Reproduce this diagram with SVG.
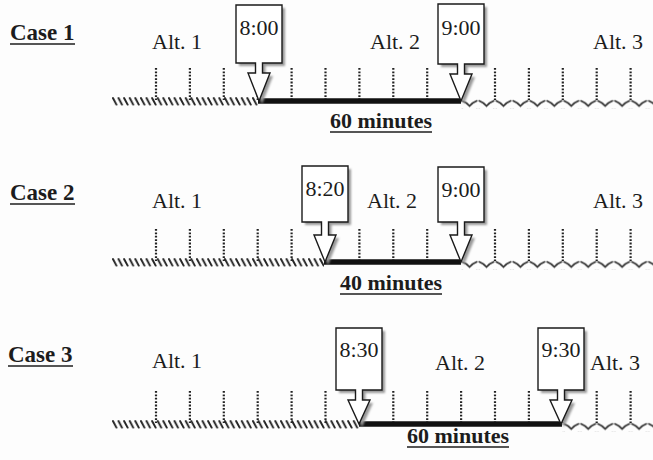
<svg xmlns="http://www.w3.org/2000/svg" width="653" height="460" viewBox="0 0 653 460">
<style>
.t{font-family:"Liberation Serif","Times New Roman",serif;font-size:22px;fill:#1c1c1c}
.b{font-weight:bold}
.m{text-anchor:middle}
.ul{stroke:#1c1c1c;stroke-width:1.6}
.tick{fill:none;stroke:#222;stroke-width:2.2;stroke-dasharray:1.8 1.6}
.thick{stroke:#111;stroke-width:5.5}
.call{fill:#fff;stroke:#1a1a1a;stroke-width:1.4;stroke-linejoin:miter}
.shadow{fill:#999;filter:url(#blur)}
</style>
<defs>
<filter id="blur" x="-20%" y="-20%" width="140%" height="140%"><feGaussianBlur stdDeviation="1.1"/></filter>
<pattern id="hatch" patternUnits="userSpaceOnUse" x="112" y="-4" width="5.6" height="9">
<path d="M0.9,1 L4.4,7.6" stroke="#222" stroke-width="1.9" stroke-linecap="round" fill="none"/>
</pattern>
<pattern id="wave" patternUnits="userSpaceOnUse" x="156" y="-1.5" width="16.95" height="9">
<path d="M0.6,0.9 Q5,2.5 8.47,6.6 Q11.9,2.5 16.35,0.9" stroke="#262626" stroke-width="1.6" fill="none"/>
</pattern>
<path id="ticks" d="M156,-33V-1M189.9,-33V-1M223.8,-33V-1M257.7,-33V-1M291.6,-33V-1M325.5,-33V-1M359.4,-33V-1M393.3,-33V-1M427.2,-33V-1M461.1,-33V-1M495,-33V-1M528.9,-33V-1M562.8,-33V-1M596.7,-33V-1M630.6,-33V-1"/>
</defs>
<rect width="653" height="460" fill="#fdfdfd"/>

<!-- CASE 1 -->
<g id="case1">
<g id="case1-timeline" transform="translate(0,101)">
<rect x="112" y="-4" width="146" height="9" fill="url(#hatch)"/>
<rect x="461" y="-1.5" width="192" height="9" fill="url(#wave)"/>
<use href="#ticks" class="tick"/>
<line x1="258" y1="0" x2="461" y2="0" class="thick"/>
</g>
<g id="case1-label"><text class="t b" x="10" y="40" style="font-size:23px">Case 1</text><line class="ul" x1="10" y1="44" x2="75" y2="44"/></g>
<text id="case1-alt1" class="t" x="152" y="49">Alt. 1</text>
<text id="case1-alt2" class="t" x="370" y="49">Alt. 2</text>
<text id="case1-alt3" class="t" x="593" y="49">Alt. 3</text>
<g id="case1-800">
<path class="shadow" transform="translate(3,3)" d="M236,5H282V63H262.5V73H270L259,101L248,73H255.5V63H236Z"/>
<path class="call" d="M236,5H282V63H262.5V73H270L259,101L248,73H255.5V63H236Z"/>
<text class="t m" x="259" y="35">8:00</text>
</g>
<g id="case1-900">
<path class="shadow" transform="translate(3,3)" d="M438,4H484V64H464.5V74H472L461,101L450,74H457.5V64H438Z"/>
<path class="call" d="M438,4H484V64H464.5V74H472L461,101L450,74H457.5V64H438Z"/>
<text class="t m" x="461" y="35">9:00</text>
</g>
<g id="case1-minutes"><text class="t b m" x="381" y="128">60 minutes</text><line class="ul" x1="330" y1="132" x2="432" y2="132"/></g>
</g>

<!-- CASE 2 -->
<g id="case2">
<g id="case2-timeline" transform="translate(0,262)">
<rect x="112" y="-4" width="212" height="9" fill="url(#hatch)"/>
<rect x="461" y="-1.5" width="192" height="9" fill="url(#wave)"/>
<use href="#ticks" class="tick"/>
<line x1="324" y1="0" x2="461" y2="0" class="thick"/>
</g>
<g id="case2-label"><text class="t b" x="10" y="200" style="font-size:23px">Case 2</text><line class="ul" x1="10" y1="204" x2="75" y2="204"/></g>
<text id="case2-alt1" class="t" x="152" y="208">Alt. 1</text>
<text id="case2-alt2" class="t" x="367" y="208">Alt. 2</text>
<text id="case2-alt3" class="t" x="593" y="208">Alt. 3</text>
<g id="case2-820">
<path class="shadow" transform="translate(3,3)" d="M302,166H348V222H328.5V235H336L325,262L314,235H321.5V222H302Z"/>
<path class="call" d="M302,166H348V222H328.5V235H336L325,262L314,235H321.5V222H302Z"/>
<text class="t m" x="325" y="196">8:20</text>
</g>
<g id="case2-900">
<path class="shadow" transform="translate(3,3)" d="M438,167H484V222H464.5V235H472L461,262L450,235H457.5V222H438Z"/>
<path class="call" d="M438,167H484V222H464.5V235H472L461,262L450,235H457.5V222H438Z"/>
<text class="t m" x="461" y="197">9:00</text>
</g>
<g id="case2-minutes"><text class="t b m" x="391" y="290">40 minutes</text><line class="ul" x1="340" y1="294" x2="442" y2="294"/></g>
</g>

<!-- CASE 3 -->
<g id="case3">
<g id="case3-timeline" transform="translate(0,424)">
<rect x="112" y="-4" width="247" height="9" fill="url(#hatch)"/>
<rect x="562" y="-1.5" width="91" height="9" fill="url(#wave)"/>
<use href="#ticks" class="tick"/>
<line x1="359" y1="0" x2="562" y2="0" class="thick"/>
</g>
<g id="case3-label"><text class="t b" x="8" y="362" style="font-size:23px">Case 3</text><line class="ul" x1="8" y1="366" x2="73" y2="366"/></g>
<text id="case3-alt1" class="t" x="152" y="368">Alt. 1</text>
<text id="case3-alt2" class="t" x="435" y="370">Alt. 2</text>
<text id="case3-alt3" class="t" x="590" y="370">Alt. 3</text>
<g id="case3-830">
<path class="shadow" transform="translate(3,3)" d="M336,328H382V390H362.5V400H370L359,424L348,400H355.5V390H336Z"/>
<path class="call" d="M336,328H382V390H362.5V400H370L359,424L348,400H355.5V390H336Z"/>
<text class="t m" x="359" y="357">8:30</text>
</g>
<g id="case3-930">
<path class="shadow" transform="translate(3,3)" d="M538,328H584V390H564.5V400H572L561,424L550,400H557.5V390H538Z"/>
<path class="call" d="M538,328H584V390H564.5V400H572L561,424L550,400H557.5V390H538Z"/>
<text class="t m" x="561" y="357">9:30</text>
</g>
<g id="case3-minutes"><text class="t b m" x="458" y="443">60 minutes</text><line class="ul" x1="407" y1="447" x2="509" y2="447"/></g>
</g>
</svg>
